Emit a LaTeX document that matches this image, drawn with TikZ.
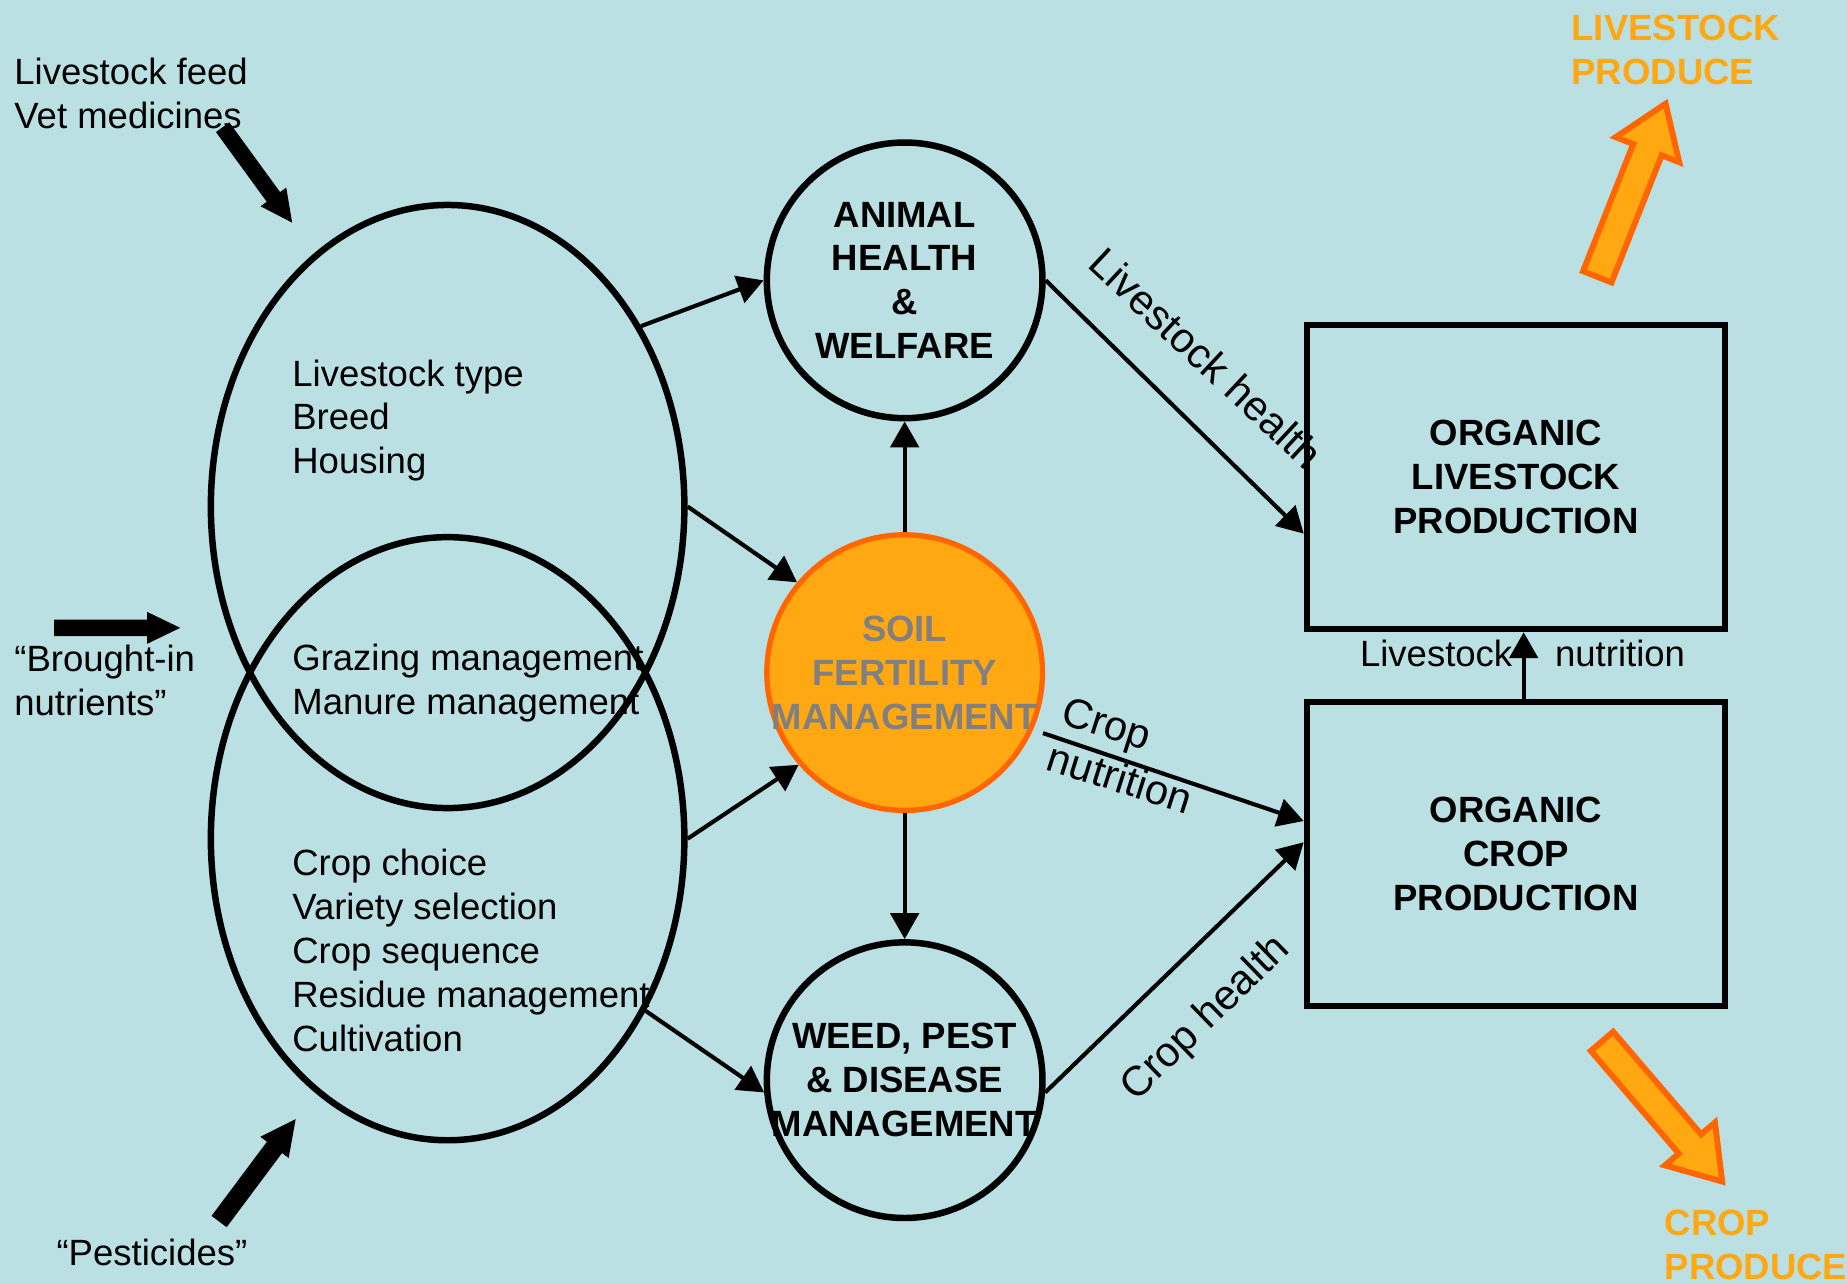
\documentclass[tikz,border=0pt]{standalone}
\usepackage{fontspec}
\setmainfont{Liberation Sans}
\usetikzlibrary{shapes.geometric, arrows.meta, calc}

\definecolor{sky}{RGB}{186,224,227}
\definecolor{produce}{RGB}{255,168,18}
\definecolor{flame}{RGB}{255,102,0}
\definecolor{soiltext}{RGB}{128,128,128}

% Wide block arrow: #1 style, #2 tail, #3 tip, #4 shaft half-width,
% #5 head half-width, #6 head length
\newcommand{\drawblockarrow}[6]{%
  \path ($(#3)!#6!(#2)$) coordinate (neck);
  \path[#1] ($(#2)!#4!90:(#3)$) -- ($(neck)!#4!-90:(#2)$) -- ($(neck)!#5!-90:(#2)$) -- (#3)
    -- ($(neck)!#5!90:(#2)$) -- ($(neck)!#4!90:(#2)$) -- ($(#2)!#4!-90:(#3)$) -- cycle;
}

\begin{document}
\begin{tikzpicture}[x=1pt, y=-1pt,
  body/.style={font=\fontsize{31}{37.3}\selectfont, inner sep=0pt, align=left},
  caps/.style={font=\fontsize{31}{37.3}\selectfont\bfseries, inner sep=0pt, align=center},
  slopelabel/.style={font=\fontsize{35.5}{41}\selectfont, inner sep=0pt, align=left},
  ring/.style={circle, draw, line width=5.5pt, minimum size=234pt, inner sep=0pt},
  group/.style={ellipse, draw, line width=5.5pt, minimum width=402pt, minimum height=512pt, inner sep=0pt},
  prodbox/.style={rectangle, draw, line width=5.5pt, minimum width=355pt, minimum height=258pt, inner sep=0pt},
  link/.style={line width=3.5pt, -{Triangle[length=22pt,width=24pt]}},
  inflow/.style={fill=black},
  outflow/.style={fill=produce, draw=flame, line width=5pt, line join=miter},
]
% background
\fill[sky] (0,0) rectangle (1568,1090);
\useasboundingbox (0,0) rectangle (1568,1090);

% management groups
\node[group] (livestockgroup) at (380,430) {};
\node[group] (cropgroup) at (380,712) {};

\node[body, anchor=west] (inputs) at (12,79) {Livestock feed\\Vet medicines};
\node[body, anchor=west] (brought) at (12,578) {“Brought-in\\nutrients”};
\node[body] (pesticides) at (129,1063) {“Pesticides”};

\node[body, anchor=west] (livestocklist) at (248,357) {Livestock type\\Breed\\Housing};
\node[body, anchor=west] (sharedlist) at (248,580) {Grazing management\\Manure management};
\node[body, anchor=west] (croplist) at (248,807) {Crop choice\\Variety selection\\Crop sequence\\Residue management\\Cultivation};

% central circles
\node[ring] (animal) at (768,238) {};
\node[ring, fill=produce, draw=flame, line width=4.5pt] (soil) at (768,571) {};
\node[ring] (weed) at (768,917) {};
\node[caps] (animaltext) at (animal.center) {ANIMAL\\HEALTH\\\&\\WELFARE};
\node[caps, text=soiltext] (soiltxt) at (soil.center) {SOIL\\FERTILITY\\MANAGEMENT};
\node[caps] (weedtext) at (weed.center) {WEED, PEST\\\& DISEASE\\MANAGEMENT};

% production boxes
\node[prodbox, caps] (lbox) at (1287,405) {ORGANIC\\LIVESTOCK\\PRODUCTION};
\node[prodbox, caps] (cbox) at (1287,725) {ORGANIC\\CROP\\PRODUCTION};

% connectors
\draw[link] (livestockgroup.43) -- (animal.west);
\draw[link] (livestockgroup.east) -- (soil.140);
\draw[link] (cropgroup.east) -- (soil.221);
\draw[link] (cropgroup.-41) -- (weed.185);
\draw[link] (soil.north) -- (animal.south);
\draw[link] (soil.south) -- (weed.north);
\draw[link] (animal.east) -- ([yshift=-48pt]lbox.west);
\draw[link, shorten <=9pt] (soil.-24) -- ([yshift=28pt]cbox.west);
\draw[link] (weed.-5) -- ([yshift=10pt]cbox.west);
\draw[link] ([xshift=6.5pt]cbox.north) -- ([xshift=6.5pt]lbox.south);

% connector labels
\node[slopelabel, rotate=-43] (lhlabel) at (1024,304) {Livestock health};
\node[slopelabel, rotate=-17.6] (cnlabel) at (957,641) {Crop\\nutrition};
\node[slopelabel, rotate=44.2] (chlabel) at (1024,865) {Crop health};
\node[body, anchor=east] (lnleft) at (1284,555) {Livestock};
\node[body, anchor=west] (lnright) at (1320,555) {nutrition};

% outputs
\node[caps, text=produce, anchor=west, align=left] (lprod) at (1334,42) {LIVESTOCK\\PRODUCE};
\node[caps, text=produce, anchor=west, align=left] (cprod) at (1413,1056.5) {CROP\\PRODUCE};

% inputs and outputs as block arrows
\coordinate (feedtail) at (189,108);
\coordinate (feedtip) at (248,189);
\drawblockarrow{inflow}{feedtail}{feedtip}{7pt}{13.5pt}{27pt}
\coordinate (nutrtail) at (46,533);
\coordinate (nutrtip) at (153,533);
\drawblockarrow{inflow}{nutrtail}{nutrtip}{7pt}{13.5pt}{28pt}
\coordinate (pesttail) at (186,1037);
\coordinate (pesttip) at (251,950);
\drawblockarrow{inflow}{pesttail}{pesttip}{8pt}{15pt}{30pt}
\coordinate (lptail) at (1356,235);
\coordinate (lptip) at (1414,88);
\drawblockarrow{outflow}{lptail}{lptip}{13pt}{29pt}{42pt}
\coordinate (cptail) at (1360,884);
\coordinate (cptip) at (1462,1003);
\drawblockarrow{outflow}{cptail}{cptip}{12.5pt}{28pt}{42pt}
\end{tikzpicture}
\end{document}
